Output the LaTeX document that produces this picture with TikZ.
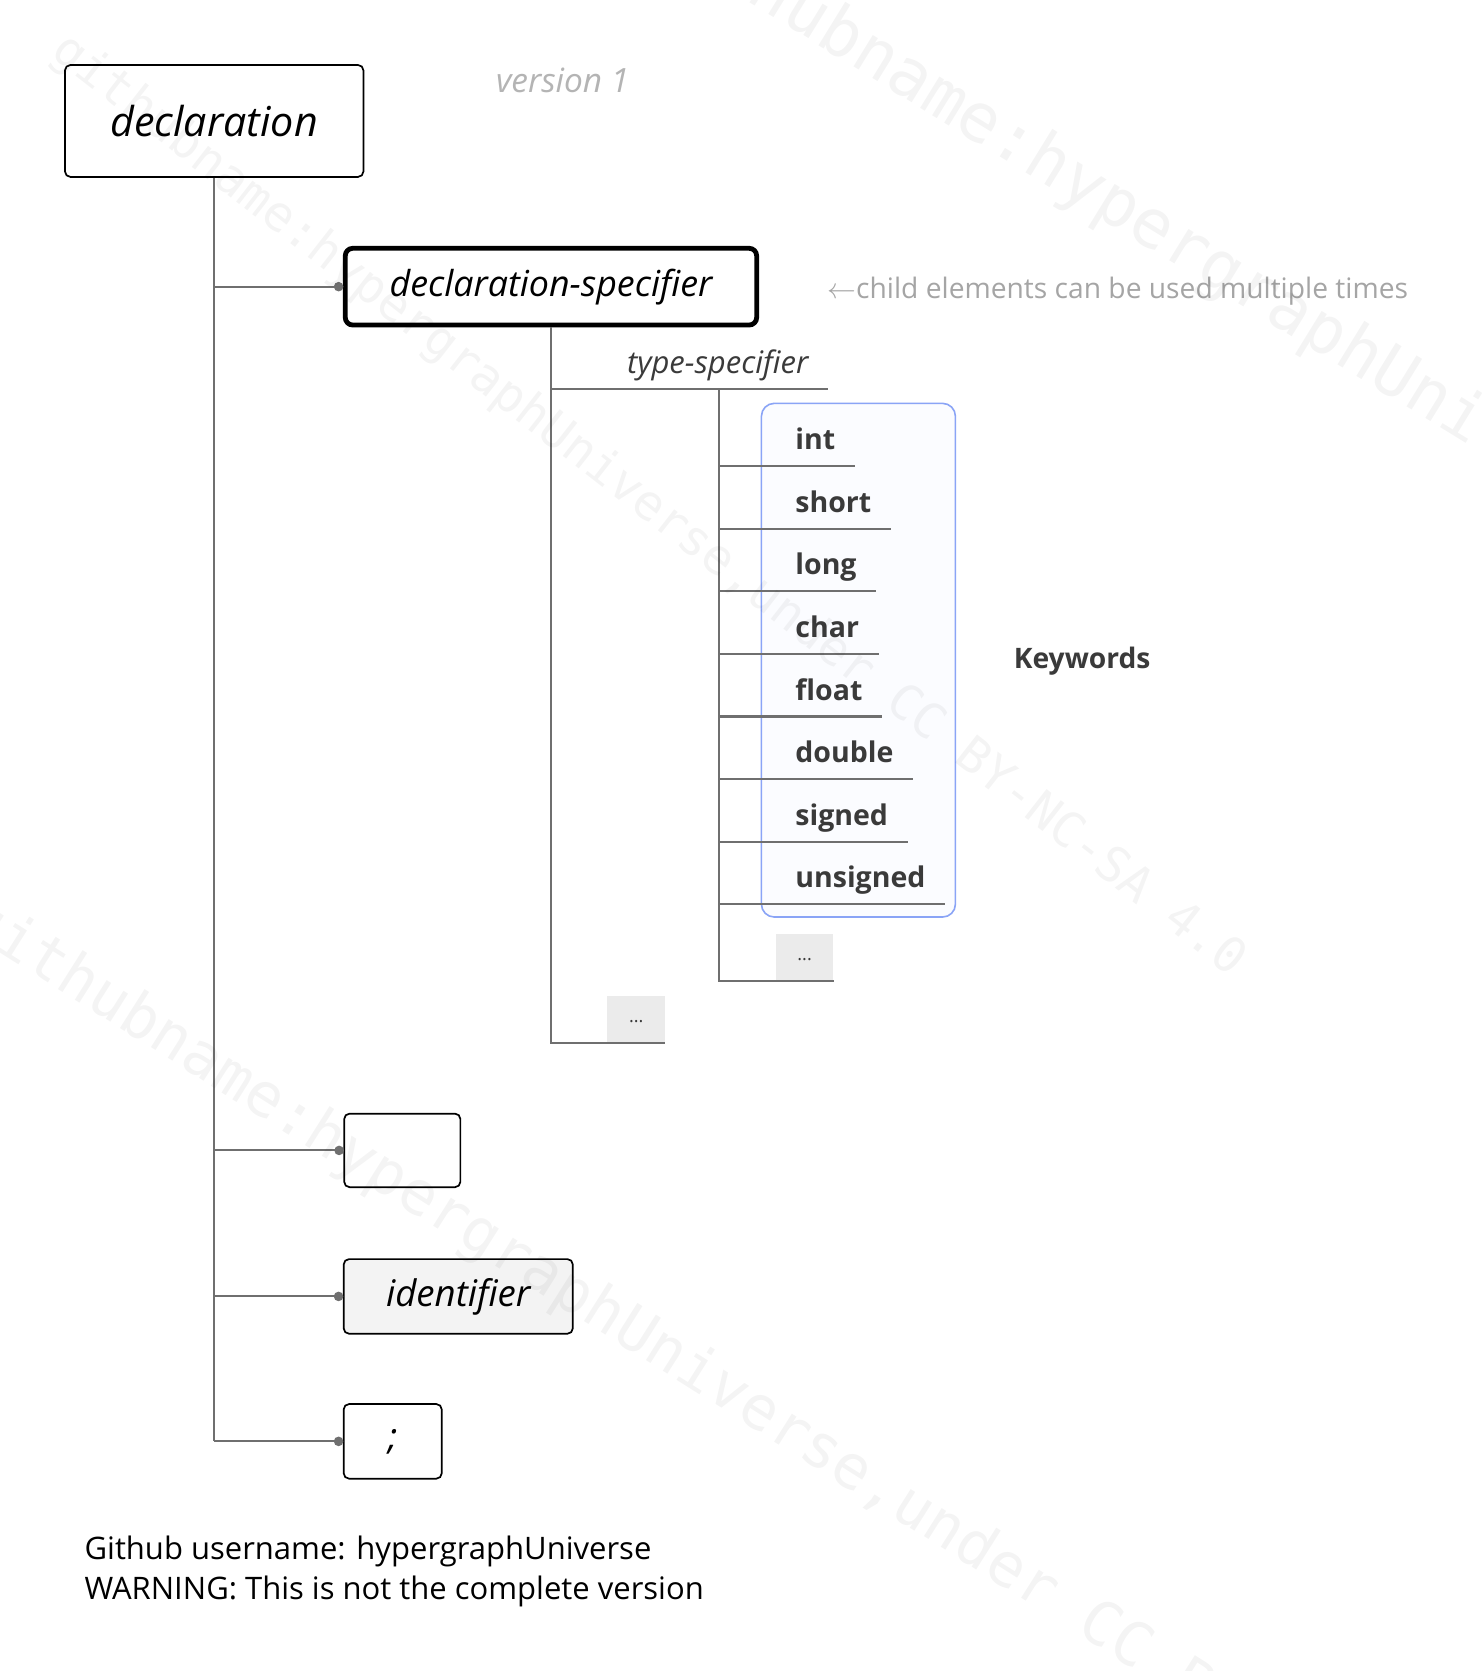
\documentclass[tikz,border=0pt]{standalone}
\usepackage{fontspec}
\setmainfont{Open Sans}
\newfontfamily\wmfont{DejaVu Sans Mono}
\usetikzlibrary{calc}
\newlength\pxl
\setlength\pxl{0.53275pt}
\definecolor{linegray}{HTML}{6F6F6F}
\definecolor{kwtext}{HTML}{3A3A3A}
\definecolor{notegray}{HTML}{A5A5A5}
\definecolor{vergray}{HTML}{B4B4B4}
\definecolor{morefill}{HTML}{EBEBEB}
\definecolor{identfill}{HTML}{F3F3F3}
\definecolor{kwblue}{HTML}{8AA4F6}
\definecolor{kwbluefill}{HTML}{FBFCFF}
\begin{document}
\begin{tikzpicture}[x=0.53275pt, y=-0.53275pt,
  conn/.style={draw=linegray, line width=2*\pxl},
  joint/.style={circle, fill=linegray, inner sep=0pt, minimum size=9*\pxl},
  elem/.style={draw=black, fill=white, rounded corners=5*\pxl, line width=1.6*\pxl,
    inner sep=0pt, text=black, font=\itshape\fontsize{18.3}{21}\selectfont},
  leaf/.style={anchor=south west, inner xsep=18*\pxl, inner ysep=15*\pxl, text depth=0pt},
  kw/.style={leaf, font=\bfseries\fontsize{14.25}{16}\selectfont, text=kwtext},
  more/.style={fill=morefill, minimum width=54*\pxl, minimum height=44*\pxl, inner sep=0pt,
    font=\fontsize{9}{10}\selectfont, text=kwtext},
  wm/.style={anchor=west, inner sep=0pt, text=black, text opacity=0.045},
]
\useasboundingbox (0,0) rectangle (1390,1568);
\clip (0,0) rectangle (1390,1568);
\fill[white] (0,0) rectangle (1390,1568);

% top-level rule and its title
\node[elem, minimum width=280*\pxl, minimum height=105*\pxl,
  font=\itshape\fontsize{20.6}{24}\selectfont] (decl) at (201,113.5) {declaration};
\node[text=vergray, inner sep=0pt, font=\itshape\fontsize{16.7}{19}\selectfont] (ver) at (528,75) {version 1};

% children of declaration
\node[elem, line width=4.5*\pxl, rounded corners=7*\pxl, minimum width=386*\pxl, minimum height=72*\pxl,
  font=\itshape\fontsize{17.9}{21}\selectfont] (dspec) at (517,269) {declaration-specifier};
\node[elem, minimum width=109*\pxl, minimum height=69*\pxl] (blank) at (377.5,1079.5) {};
\node[elem, fill=identfill, minimum width=215*\pxl, minimum height=70*\pxl] (ident) at (430,1216.5) {identifier};
\node[elem, minimum width=92*\pxl, minimum height=70*\pxl] (semi) at (368.5,1352.5) {;};

\node[anchor=base west, inner sep=0pt, text=notegray, font=\fontsize{14.1}{17}\selectfont] (note) at (776,280)
  {$\leftarrow$child elements can be used multiple times};

% main trunk and branches
\draw[conn] (decl.south) -- (decl.south |- semi.west);
\foreach \n in {dspec, blank, ident, semi} {
  \draw[conn] (decl.south |- \n.west) -- (\n.west);
  \node[joint] at ([xshift=-4*\pxl]\n.west) {};
}

% declaration-specifier subtree
\node[leaf, font=\itshape\fontsize{15.5}{18}\selectfont, text=kwtext] (tspec) at (570,365.4) {type-specifier};
\node[more] (more1) at (597,956.5) {\raisebox{-0.35em}{...}};
\draw[conn] (dspec.south) -- (dspec.south |- more1.south) -- (more1.south east);
\draw[conn] (dspec.south |- tspec.south) -- (tspec.south east);

% keyword group frame
\node[draw=kwblue, fill=kwbluefill, line width=1.5*\pxl, rounded corners=12*\pxl,
  minimum width=182*\pxl, minimum height=482*\pxl, inner sep=0pt] (kwbox) at (805.5,619.5) {};
\node[anchor=west, inner sep=0pt, font=\bfseries\fontsize{14.1}{16}\selectfont, text=kwtext] (kwlabel) at (951,620) {Keywords};

% type-specifier alternatives
\coordinate (tstop) at (675,365.4);
\foreach \k/\t [count=\i from 0] in {kint/int, kshort/short, klong/long, kchar/char,
    kfloat/float, kdouble/double, ksigned/signed, kunsigned/unsigned} {
  \node[kw] (\k) at (728,437.5+58.7*\i) {\t};
  \draw[conn] (tstop |- \k.south) -- (\k.south east);
}
\node[more] (more2) at (755,898.5) {\raisebox{-0.35em}{...}};
\draw[conn] (tstop) -- (tstop |- more2.south) -- (more2.south east);

% footer
\node[anchor=base west, inner sep=0pt, font=\fontsize{15.5}{19}\selectfont] (foot1) at (79,1463) {Github username: hypergraphUniverse};
\node[anchor=base west, inner sep=0pt, font=\fontsize{15.5}{19}\selectfont] (foot2) at (79,1501) {WARNING: This is not the complete version};

% licence watermark
\node[wm, rotate=-38, font=\wmfont\fontsize{24.4}{26}\selectfont] (wm1) at (54,42)
  {githubname:hypergraphUniverse,under CC BY-NC-SA 4.0};
\node[wm, rotate=-31.6, font=\wmfont\fontsize{33.7}{36}\selectfont] (wm2) at (610,-75)
  {githubname:hypergraphUniverse,under CC BY-NC-SA 4.0};
\node[wm, rotate=-32.3, font=\wmfont\fontsize{30.4}{33}\selectfont] (wm3) at (-29,857)
  {githubname:hypergraphUniverse,under CC BY-NC-SA 4.0};
\end{tikzpicture}
\end{document}
